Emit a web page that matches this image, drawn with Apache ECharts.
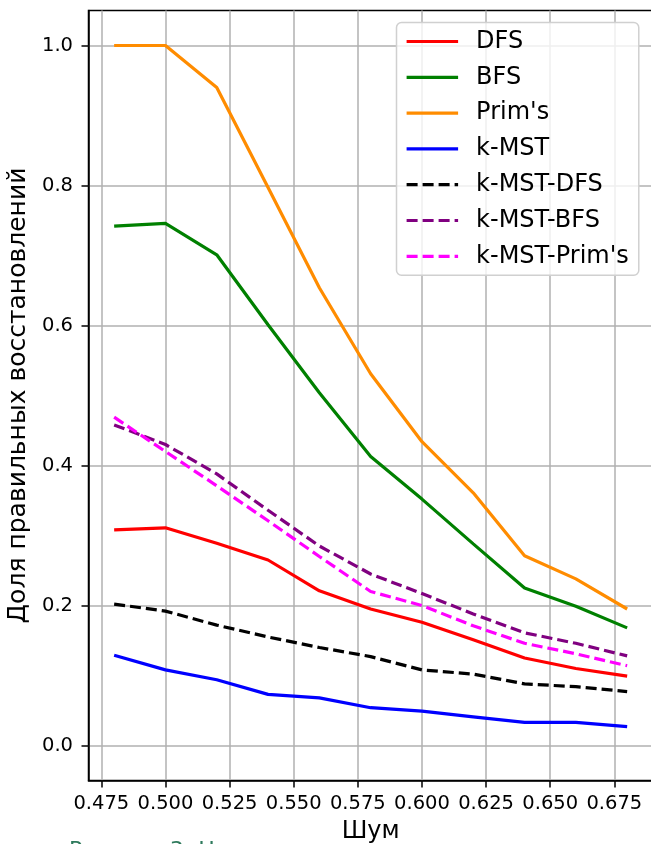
<!DOCTYPE html>
<html>
<head>
<meta charset="utf-8">
<script src="https://cdn.jsdelivr.net/npm/echarts@6/dist/echarts.min.js"></script>
<style>
  html, body { margin: 0; padding: 0; background: #fff; }
  #chart { width: 651px; height: 844px; }
</style>
</head>
<body>
<div id="chart"></div>
<script>
// Noise levels on the x axis
const noise = [0.48, 0.50, 0.52, 0.54, 0.56, 0.58, 0.60, 0.62, 0.64, 0.66, 0.68];

// Share of correct reconstructions for each method
const dfs      = [0.308, 0.311, 0.289, 0.265, 0.221, 0.195, 0.176, 0.151, 0.125, 0.110, 0.099];
const bfs      = [0.742, 0.746, 0.701, 0.601, 0.504, 0.413, 0.352, 0.288, 0.225, 0.199, 0.168];
const prims    = [1.000, 1.000, 0.940, 0.797, 0.654, 0.531, 0.434, 0.361, 0.271, 0.238, 0.195];
const kmst     = [0.129, 0.108, 0.094, 0.073, 0.068, 0.054, 0.049, 0.041, 0.033, 0.033, 0.027];
const kmstDfs  = [0.202, 0.192, 0.172, 0.155, 0.140, 0.127, 0.108, 0.102, 0.088, 0.084, 0.077];
const kmstBfs  = [0.458, 0.430, 0.388, 0.336, 0.285, 0.245, 0.217, 0.188, 0.161, 0.146, 0.128];
const kmstPrim = [0.469, 0.420, 0.371, 0.321, 0.270, 0.220, 0.200, 0.171, 0.146, 0.131, 0.114];

// Tick positions
const xTicks = [0.475, 0.500, 0.525, 0.550, 0.575, 0.600, 0.625, 0.650, 0.675];
const yTicks = [0.0, 0.2, 0.4, 0.6, 0.8, 1.0];

const FONT = 'DejaVu Sans';
const DASH = [11, 5];
const LW = 3.2;

function pairs(values) {
  return noise.map((x, i) => [x, values[i]]);
}

function lineSeries(name, values, color, dashed) {
  return {
    name: name,
    type: 'line',
    data: pairs(values),
    symbol: 'none',
    showSymbol: false,
    color: color,
    lineStyle: { color: color, width: LW, type: dashed ? DASH : 'solid', cap: 'butt' },
    emphasis: { disabled: true },
    silent: true
  };
}

const chart = echarts.init(document.getElementById('chart'), null, { renderer: 'canvas' });

chart.setOption({
  animation: false,
  backgroundColor: '#ffffff',
  textStyle: { fontFamily: FONT },
  grid: {
    left: 88.5, top: 10.5, width: 564.3, height: 770,
    outerBoundsMode: 'none',
    containLabel: false,
    show: true, borderColor: '#000', borderWidth: 1.5, backgroundColor: 'transparent'
  },
  xAxis: {
    type: 'value',
    min: 0.47, max: 0.69,
    name: 'Шум',
    nameLocation: 'middle',
    nameGap: 39,
    nameTextStyle: { fontFamily: FONT, fontSize: 24, color: '#000' },
    axisLine: { onZero: false, lineStyle: { color: '#000', width: 1.5 } },
    axisTick: { show: true, customValues: xTicks, length: 7, lineStyle: { color: '#000', width: 1.5 } },
    axisLabel: {
      customValues: xTicks, margin: 13,
      fontFamily: FONT, fontSize: 19.5, color: '#000',
      formatter: v => v.toFixed(3)
    },
    splitLine: { show: true, lineStyle: { color: '#b0b0b0', width: 1.5 } }
  },
  yAxis: {
    type: 'value',
    min: -0.05, max: 1.05,
    name: 'Доля правильных восстановлений',
    nameLocation: 'middle',
    nameGap: 54,
    nameTextStyle: { fontFamily: FONT, fontSize: 25, color: '#000' },
    axisLine: { onZero: false, lineStyle: { color: '#000', width: 1.5 } },
    axisTick: { show: true, customValues: yTicks, length: 7, lineStyle: { color: '#000', width: 1.5 } },
    axisLabel: {
      customValues: yTicks, margin: 15.5,
      fontFamily: FONT, fontSize: 19.5, color: '#000',
      formatter: v => v.toFixed(1)
    },
    splitLine: { show: true, lineStyle: { color: '#b0b0b0', width: 1.5 } }
  },
  legend: {
    orient: 'vertical',
    left: 396.5, top: 22.5,
    padding: [7, 10, 7, 8.5],
    itemWidth: 51.5, itemHeight: 24, itemGap: 11.8,
    backgroundColor: 'rgba(255,255,255,0.8)',
    borderColor: '#d0d0d0', borderWidth: 1.5, borderRadius: 5,
    itemStyle: { opacity: 0 },
    lineStyle: { width: LW },
    textStyle: { fontFamily: FONT, fontSize: 24, color: '#000', lineHeight: 24, padding: [0, 0, 0, 13] },
    selectedMode: false,
    data: ['DFS', 'BFS', "Prim's", 'k-MST', 'k-MST-DFS', 'k-MST-BFS', "k-MST-Prim's"]
  },
  graphic: [{
    type: 'text',
    left: 69, top: 840,
    silent: true,
    style: { text: 'Рисунок 3: Н', fontFamily: FONT, fontSize: 22, fill: '#2e7a5c' }
  }],
  series: [
    lineSeries('DFS', dfs, '#ff0000', false),
    lineSeries('BFS', bfs, '#008000', false),
    lineSeries("Prim's", prims, '#ff8c00', false),
    lineSeries('k-MST', kmst, '#0000ff', false),
    lineSeries('k-MST-DFS', kmstDfs, '#000000', true),
    lineSeries('k-MST-BFS', kmstBfs, '#800080', true),
    lineSeries("k-MST-Prim's", kmstPrim, '#ff00ff', true)
  ]
});
</script>
</body>
</html>
